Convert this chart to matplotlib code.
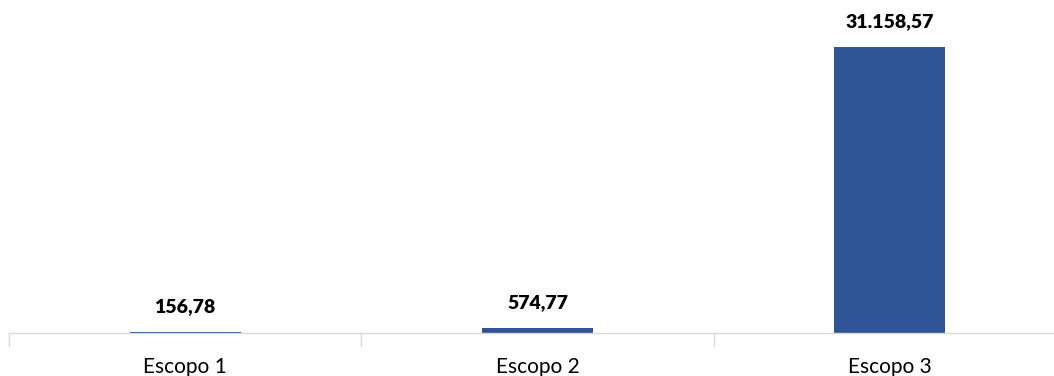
import matplotlib
matplotlib.use("Agg")
import matplotlib.pyplot as plt

categories = ["Escopo 1", "Escopo 2", "Escopo 3"]
values = [156.78, 574.77, 31158.57]
labels = ["156,78", "574,77", "31.158,57"]

W, H = 1054, 376
fig = plt.figure(figsize=(W / 100, H / 100), dpi=100)
left = 9 / W
width = 1057 / W
bottom = 43 / H
ax = fig.add_axes([left, bottom, width, 1 - bottom])

x = range(len(categories))
ax.bar(x, values, width=0.315, color="#2F5597")
ax.set_xlim(-0.5, len(categories) - 0.5)
ax.set_ylim(0, values[2] * 333 / 286)

for xi, v, lab in zip(x, values, labels):
    ax.annotate(lab, (xi, v), xytext=(0, 12), textcoords="offset points",
                ha="center", va="bottom", fontsize=14, fontweight="heavy",
                family="Lato", color="#000000")

ax.set_xticks([-0.5, 0.5, 1.5, 2.5], minor=False)
ax.set_xticklabels([])
ax.set_xticks(list(x), minor=True)
ax.set_xticklabels(categories, minor=True, fontsize=15, family="Lato", color="#000000")
ax.tick_params(axis="x", which="major", length=9, width=1, color="#d9d9d9")
ax.tick_params(axis="x", which="minor", length=0, pad=17)
ax.set_yticks([])
for s in ["top", "right", "left"]:
    ax.spines[s].set_visible(False)
ax.spines["bottom"].set_color("#d9d9d9")
ax.spines["bottom"].set_linewidth(1)

fig.savefig("out.png", dpi=100)
